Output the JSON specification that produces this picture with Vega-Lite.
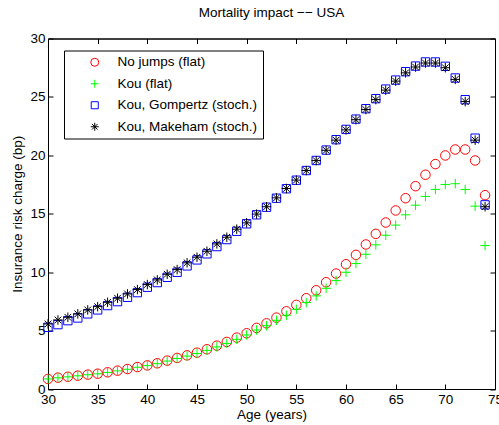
{
  "$schema": "https://vega.github.io/schema/vega-lite/v6.json",
  "autosize": "none",
  "width": 447,
  "height": 350.5,
  "padding": {"left": 48, "top": 38.5, "right": 4, "bottom": 36},
  "background": "white",
  "title": {"text": "Mortality impact \u2212\u2212 USA", "fontSize": 13.5, "fontWeight": "normal", "font": "Liberation Sans", "color": "black", "offset": 12, "anchor": "middle"},
  "config": {
    "view": {"stroke": "black", "strokeWidth": 1},
    "axis": {"grid": false, "domainColor": "black", "tickColor": "black", "labelColor": "black", "titleColor": "black", "labelFont": "Liberation Sans", "titleFont": "Liberation Sans", "labelFontSize": 13.5, "titleFontSize": 13.5, "titleFontWeight": "normal", "tickSize": -5, "domainWidth": 1, "tickWidth": 1, "labelFlush": false}
  },
  "data": {"values": [
    {"age":30,"s":"No jumps (flat)","v":0.86},{"age":31,"s":"No jumps (flat)","v":0.97},{"age":32,"s":"No jumps (flat)","v":1.05},{"age":33,"s":"No jumps (flat)","v":1.14},{"age":34,"s":"No jumps (flat)","v":1.23},{"age":35,"s":"No jumps (flat)","v":1.31},{"age":36,"s":"No jumps (flat)","v":1.43},{"age":37,"s":"No jumps (flat)","v":1.57},{"age":38,"s":"No jumps (flat)","v":1.71},{"age":39,"s":"No jumps (flat)","v":1.88},{"age":40,"s":"No jumps (flat)","v":2.02},{"age":41,"s":"No jumps (flat)","v":2.2},{"age":42,"s":"No jumps (flat)","v":2.43},{"age":43,"s":"No jumps (flat)","v":2.66},{"age":44,"s":"No jumps (flat)","v":2.88},{"age":45,"s":"No jumps (flat)","v":3.11},{"age":46,"s":"No jumps (flat)","v":3.4},{"age":47,"s":"No jumps (flat)","v":3.71},{"age":48,"s":"No jumps (flat)","v":4.03},{"age":49,"s":"No jumps (flat)","v":4.4},{"age":50,"s":"No jumps (flat)","v":4.77},{"age":51,"s":"No jumps (flat)","v":5.23},{"age":52,"s":"No jumps (flat)","v":5.62},{"age":53,"s":"No jumps (flat)","v":6.11},{"age":54,"s":"No jumps (flat)","v":6.65},{"age":55,"s":"No jumps (flat)","v":7.2},{"age":56,"s":"No jumps (flat)","v":7.77},{"age":57,"s":"No jumps (flat)","v":8.45},{"age":58,"s":"No jumps (flat)","v":9.14},{"age":59,"s":"No jumps (flat)","v":9.88},{"age":60,"s":"No jumps (flat)","v":10.68},{"age":61,"s":"No jumps (flat)","v":11.48},{"age":62,"s":"No jumps (flat)","v":12.37},{"age":63,"s":"No jumps (flat)","v":13.28},{"age":64,"s":"No jumps (flat)","v":14.25},{"age":65,"s":"No jumps (flat)","v":15.28},{"age":66,"s":"No jumps (flat)","v":16.33},{"age":67,"s":"No jumps (flat)","v":17.36},{"age":68,"s":"No jumps (flat)","v":18.34},{"age":69,"s":"No jumps (flat)","v":19.25},{"age":70,"s":"No jumps (flat)","v":19.99},{"age":71,"s":"No jumps (flat)","v":20.5},{"age":72,"s":"No jumps (flat)","v":20.5},{"age":73,"s":"No jumps (flat)","v":19.56},{"age":74,"s":"No jumps (flat)","v":16.59},
    {"age":30,"s":"Kou (flat)","v":0.86},{"age":31,"s":"Kou (flat)","v":0.96},{"age":32,"s":"Kou (flat)","v":1.04},{"age":33,"s":"Kou (flat)","v":1.13},{"age":34,"s":"Kou (flat)","v":1.22},{"age":35,"s":"Kou (flat)","v":1.3},{"age":36,"s":"Kou (flat)","v":1.42},{"age":37,"s":"Kou (flat)","v":1.55},{"age":38,"s":"Kou (flat)","v":1.69},{"age":39,"s":"Kou (flat)","v":1.86},{"age":40,"s":"Kou (flat)","v":2.0},{"age":41,"s":"Kou (flat)","v":2.17},{"age":42,"s":"Kou (flat)","v":2.39},{"age":43,"s":"Kou (flat)","v":2.61},{"age":44,"s":"Kou (flat)","v":2.82},{"age":45,"s":"Kou (flat)","v":3.04},{"age":46,"s":"Kou (flat)","v":3.31},{"age":47,"s":"Kou (flat)","v":3.6},{"age":48,"s":"Kou (flat)","v":3.9},{"age":49,"s":"Kou (flat)","v":4.25},{"age":50,"s":"Kou (flat)","v":4.62},{"age":51,"s":"Kou (flat)","v":5.05},{"age":52,"s":"Kou (flat)","v":5.42},{"age":53,"s":"Kou (flat)","v":5.88},{"age":54,"s":"Kou (flat)","v":6.31},{"age":55,"s":"Kou (flat)","v":6.82},{"age":56,"s":"Kou (flat)","v":7.4},{"age":57,"s":"Kou (flat)","v":7.97},{"age":58,"s":"Kou (flat)","v":8.62},{"age":59,"s":"Kou (flat)","v":9.28},{"age":60,"s":"Kou (flat)","v":9.99},{"age":61,"s":"Kou (flat)","v":10.74},{"age":62,"s":"Kou (flat)","v":11.53},{"age":63,"s":"Kou (flat)","v":12.34},{"age":64,"s":"Kou (flat)","v":13.16},{"age":65,"s":"Kou (flat)","v":14.03},{"age":66,"s":"Kou (flat)","v":14.91},{"age":67,"s":"Kou (flat)","v":15.73},{"age":68,"s":"Kou (flat)","v":16.48},{"age":69,"s":"Kou (flat)","v":17.08},{"age":70,"s":"Kou (flat)","v":17.5},{"age":71,"s":"Kou (flat)","v":17.57},{"age":72,"s":"Kou (flat)","v":17.08},{"age":73,"s":"Kou (flat)","v":15.65},{"age":74,"s":"Kou (flat)","v":12.28},
    {"age":30,"s":"Kou, Gompertz (stoch.)","v":5.28},{"age":31,"s":"Kou, Gompertz (stoch.)","v":5.51},{"age":32,"s":"Kou, Gompertz (stoch.)","v":5.85},{"age":33,"s":"Kou, Gompertz (stoch.)","v":6.08},{"age":34,"s":"Kou, Gompertz (stoch.)","v":6.43},{"age":35,"s":"Kou, Gompertz (stoch.)","v":6.77},{"age":36,"s":"Kou, Gompertz (stoch.)","v":7.14},{"age":37,"s":"Kou, Gompertz (stoch.)","v":7.48},{"age":38,"s":"Kou, Gompertz (stoch.)","v":7.85},{"age":39,"s":"Kou, Gompertz (stoch.)","v":8.25},{"age":40,"s":"Kou, Gompertz (stoch.)","v":8.71},{"age":41,"s":"Kou, Gompertz (stoch.)","v":9.11},{"age":42,"s":"Kou, Gompertz (stoch.)","v":9.56},{"age":43,"s":"Kou, Gompertz (stoch.)","v":9.99},{"age":44,"s":"Kou, Gompertz (stoch.)","v":10.54},{"age":45,"s":"Kou, Gompertz (stoch.)","v":11.05},{"age":46,"s":"Kou, Gompertz (stoch.)","v":11.57},{"age":47,"s":"Kou, Gompertz (stoch.)","v":12.19},{"age":48,"s":"Kou, Gompertz (stoch.)","v":12.79},{"age":49,"s":"Kou, Gompertz (stoch.)","v":13.5},{"age":50,"s":"Kou, Gompertz (stoch.)","v":14.14},{"age":51,"s":"Kou, Gompertz (stoch.)","v":14.91},{"age":52,"s":"Kou, Gompertz (stoch.)","v":15.56},{"age":53,"s":"Kou, Gompertz (stoch.)","v":16.33},{"age":54,"s":"Kou, Gompertz (stoch.)","v":17.14},{"age":55,"s":"Kou, Gompertz (stoch.)","v":17.87},{"age":56,"s":"Kou, Gompertz (stoch.)","v":18.7},{"age":57,"s":"Kou, Gompertz (stoch.)","v":19.56},{"age":58,"s":"Kou, Gompertz (stoch.)","v":20.45},{"age":59,"s":"Kou, Gompertz (stoch.)","v":21.34},{"age":60,"s":"Kou, Gompertz (stoch.)","v":22.22},{"age":61,"s":"Kou, Gompertz (stoch.)","v":23.1},{"age":62,"s":"Kou, Gompertz (stoch.)","v":23.99},{"age":63,"s":"Kou, Gompertz (stoch.)","v":24.85},{"age":64,"s":"Kou, Gompertz (stoch.)","v":25.67},{"age":65,"s":"Kou, Gompertz (stoch.)","v":26.44},{"age":66,"s":"Kou, Gompertz (stoch.)","v":27.16},{"age":67,"s":"Kou, Gompertz (stoch.)","v":27.64},{"age":68,"s":"Kou, Gompertz (stoch.)","v":27.99},{"age":69,"s":"Kou, Gompertz (stoch.)","v":27.99},{"age":70,"s":"Kou, Gompertz (stoch.)","v":27.62},{"age":71,"s":"Kou, Gompertz (stoch.)","v":26.62},{"age":72,"s":"Kou, Gompertz (stoch.)","v":24.76},{"age":73,"s":"Kou, Gompertz (stoch.)","v":21.47},{"age":74,"s":"Kou, Gompertz (stoch.)","v":15.76},
    {"age":30,"s":"Kou, Makeham (stoch.)","v":5.57},{"age":31,"s":"Kou, Makeham (stoch.)","v":5.91},{"age":32,"s":"Kou, Makeham (stoch.)","v":6.14},{"age":33,"s":"Kou, Makeham (stoch.)","v":6.43},{"age":34,"s":"Kou, Makeham (stoch.)","v":6.77},{"age":35,"s":"Kou, Makeham (stoch.)","v":7.05},{"age":36,"s":"Kou, Makeham (stoch.)","v":7.42},{"age":37,"s":"Kou, Makeham (stoch.)","v":7.77},{"age":38,"s":"Kou, Makeham (stoch.)","v":8.14},{"age":39,"s":"Kou, Makeham (stoch.)","v":8.51},{"age":40,"s":"Kou, Makeham (stoch.)","v":8.94},{"age":41,"s":"Kou, Makeham (stoch.)","v":9.34},{"age":42,"s":"Kou, Makeham (stoch.)","v":9.82},{"age":43,"s":"Kou, Makeham (stoch.)","v":10.22},{"age":44,"s":"Kou, Makeham (stoch.)","v":10.8},{"age":45,"s":"Kou, Makeham (stoch.)","v":11.28},{"age":46,"s":"Kou, Makeham (stoch.)","v":11.79},{"age":47,"s":"Kou, Makeham (stoch.)","v":12.42},{"age":48,"s":"Kou, Makeham (stoch.)","v":12.99},{"age":49,"s":"Kou, Makeham (stoch.)","v":13.68},{"age":50,"s":"Kou, Makeham (stoch.)","v":14.22},{"age":51,"s":"Kou, Makeham (stoch.)","v":14.97},{"age":52,"s":"Kou, Makeham (stoch.)","v":15.6},{"age":53,"s":"Kou, Makeham (stoch.)","v":16.36},{"age":54,"s":"Kou, Makeham (stoch.)","v":17.16},{"age":55,"s":"Kou, Makeham (stoch.)","v":17.88},{"age":56,"s":"Kou, Makeham (stoch.)","v":18.7},{"age":57,"s":"Kou, Makeham (stoch.)","v":19.55},{"age":58,"s":"Kou, Makeham (stoch.)","v":20.43},{"age":59,"s":"Kou, Makeham (stoch.)","v":21.3},{"age":60,"s":"Kou, Makeham (stoch.)","v":22.18},{"age":61,"s":"Kou, Makeham (stoch.)","v":23.05},{"age":62,"s":"Kou, Makeham (stoch.)","v":23.92},{"age":63,"s":"Kou, Makeham (stoch.)","v":24.77},{"age":64,"s":"Kou, Makeham (stoch.)","v":25.58},{"age":65,"s":"Kou, Makeham (stoch.)","v":26.35},{"age":66,"s":"Kou, Makeham (stoch.)","v":27.06},{"age":67,"s":"Kou, Makeham (stoch.)","v":27.56},{"age":68,"s":"Kou, Makeham (stoch.)","v":27.9},{"age":69,"s":"Kou, Makeham (stoch.)","v":27.9},{"age":70,"s":"Kou, Makeham (stoch.)","v":27.5},{"age":71,"s":"Kou, Makeham (stoch.)","v":26.5},{"age":72,"s":"Kou, Makeham (stoch.)","v":24.6},{"age":73,"s":"Kou, Makeham (stoch.)","v":21.3},{"age":74,"s":"Kou, Makeham (stoch.)","v":15.6}
  ]},
  "layer": [
    {
      "mark": {"type": "point", "filled": false, "size": 90, "strokeWidth": 1, "opacity": 1},
      "encoding": {
        "x": {"field": "age", "type": "quantitative", "scale": {"domain": [30, 75], "nice": false, "zero": false}, "axis": {"orient": "bottom", "values": [30,35,40,45,50,55,60,65,70,75], "title": "Age (years)", "labelPadding": 8, "titlePadding": 2}},
        "y": {"field": "v", "type": "quantitative", "scale": {"domain": [0, 30], "nice": false}, "axis": {"orient": "left", "values": [0,5,10,15,20,25,30], "title": "Insurance risk charge (bp)", "labelPadding": 8, "titlePadding": 5}},
        "color": {"field": "s", "type": "nominal", "scale": {"domain": ["No jumps (flat)", "Kou (flat)", "Kou, Gompertz (stoch.)", "Kou, Makeham (stoch.)"], "range": ["#ff0000", "#00ff00", "#0000ff", "#000000"]},
          "legend": {"title": null, "orient": "none", "legendX": 16, "legendY": 12, "strokeColor": "black", "fillColor": "white", "padding": 5, "rowPadding": 6.5, "labelFont": "Liberation Sans", "labelFontSize": 13.5, "labelColor": "black", "symbolOffset": 19, "labelOffset": 16, "symbolSize": 64, "symbolStrokeWidth": 1}},
        "shape": {"field": "s", "type": "nominal", "scale": {"domain": ["No jumps (flat)", "Kou (flat)", "Kou, Gompertz (stoch.)", "Kou, Makeham (stoch.)"], "range": ["circle", "M-1,0H1M0,-1V1", "M-0.88,-0.88H0.88V0.88H-0.88Z", "M-1,0H1M0,-1V1M-0.7,-0.7L0.7,0.7M-0.7,0.7L0.7,-0.7"]},
          "legend": {"title": null, "orient": "none", "legendX": 16, "legendY": 12, "strokeColor": "black", "fillColor": "white", "padding": 5, "rowPadding": 6.5, "labelFont": "Liberation Sans", "labelFontSize": 13.5, "labelColor": "black", "symbolOffset": 19, "labelOffset": 16, "symbolSize": 64, "symbolStrokeWidth": 1}}
      }
    },
    {
      "mark": {"type": "point", "opacity": 0},
      "encoding": {
        "x": {"field": "age", "type": "quantitative", "axis": {"orient": "top", "values": [30,35,40,45,50,55,60,65,70,75], "labels": false, "title": null}},
        "y": {"field": "v", "type": "quantitative", "axis": {"orient": "right", "values": [0,5,10,15,20,25,30], "labels": false, "title": null}}
      }
    }
  ],
  "resolve": {"axis": {"x": "independent", "y": "independent"}}
}
